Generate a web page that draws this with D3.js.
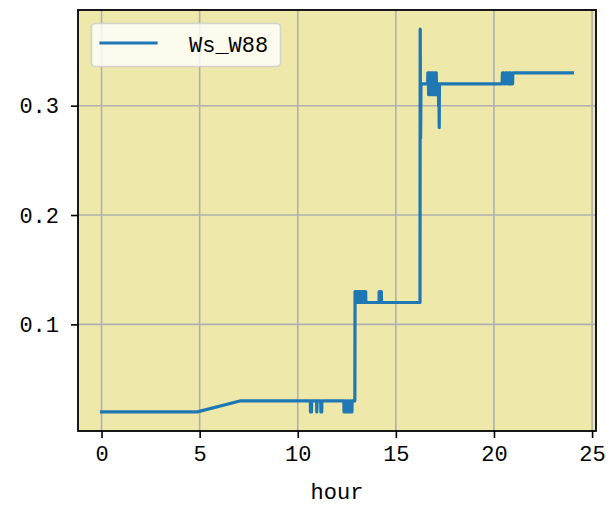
<!DOCTYPE html>
<html>
<head>
<meta charset="utf-8">
<script src="https://cdn.jsdelivr.net/npm/d3@7"></script>
<style>
  html, body { margin: 0; padding: 0; background: #ffffff; }
  svg { display: block; }
  .tick text { font-family: "Liberation Mono", "DejaVu Sans Mono", monospace; }
</style>
</head>
<body>
<div id="chart"></div>
<script>
// ---- data ----
const seriesName = "Ws_W88";
const xLabel = "hour";
const xTicks = [0, 5, 10, 15, 20, 25];
const yTicks = [0.1, 0.2, 0.3];

const hours = [
  0, 4.88, 7.05,
  10.64, 10.65, 10.70, 10.71, 10.96, 10.97, 10.99, 11.17, 11.18, 11.22, 11.23,
  12.35, 12.36, 12.40, 12.41, 12.45, 12.46, 12.52, 12.53, 12.58, 12.59, 12.66, 12.67,
  12.72, 12.73, 12.76, 12.77, 12.91,
  12.92, 12.96, 12.97, 13.00, 13.01, 13.08, 13.09, 13.12, 13.13, 13.22, 13.23, 13.27,
  13.28, 13.35, 13.36, 13.40, 13.41, 13.46, 13.47,
  14.14, 14.15, 14.18, 14.19, 14.22, 14.23, 14.26, 14.27,
  16.23, 16.24, 16.26, 16.28,
  16.62, 16.63, 16.66, 16.67, 16.72, 16.73, 16.80, 16.81, 16.86, 16.87, 16.93, 16.94,
  16.99, 17.00, 17.06, 17.07, 17.12, 17.13, 17.17, 17.18, 17.20, 17.21, 17.22,
  20.42, 20.43, 20.50, 20.51, 20.58, 20.59, 20.68, 20.69, 20.76, 20.77, 20.86, 20.87,
  20.95, 20.96, 24.0
];
const ws = [
  0.02, 0.02, 0.03,
  0.03, 0.02, 0.02, 0.03, 0.03, 0.02, 0.03, 0.03, 0.02, 0.02, 0.03,
  0.03, 0.02, 0.02, 0.03, 0.03, 0.02, 0.02, 0.03, 0.03, 0.02, 0.02, 0.03,
  0.03, 0.02, 0.02, 0.03, 0.03,
  0.13, 0.13, 0.12, 0.12, 0.13, 0.13, 0.12, 0.12, 0.13, 0.13, 0.12, 0.12,
  0.13, 0.13, 0.12, 0.12, 0.13, 0.13, 0.12,
  0.12, 0.13, 0.13, 0.12, 0.12, 0.13, 0.13, 0.12,
  0.12, 0.37, 0.27, 0.32,
  0.32, 0.33, 0.33, 0.31, 0.31, 0.33, 0.33, 0.31, 0.31, 0.33, 0.33, 0.31,
  0.31, 0.33, 0.33, 0.31, 0.31, 0.32, 0.32, 0.30, 0.30, 0.28, 0.32,
  0.32, 0.33, 0.33, 0.32, 0.32, 0.33, 0.33, 0.32, 0.32, 0.33, 0.33, 0.32,
  0.32, 0.33, 0.33
];

// ---- layout ----
const W = 613, H = 520;
const plot = { left: 78, right: 596, top: 10, bottom: 431 };
const bg = "#eee8aa";
const lineColor = "#1f77b4";
const fontMono = "'Liberation Mono', 'DejaVu Sans Mono', monospace";

const svg = d3.select("#chart").append("svg")
  .attr("width", W).attr("height", H);

const x = d3.scaleLinear().domain([-1.2, 25.2]).range([plot.left, plot.right]);
const y = d3.scaleLinear().domain([0.0025, 0.3875]).range([plot.bottom, plot.top]);

// background
svg.append("rect")
  .attr("x", plot.left).attr("y", plot.top)
  .attr("width", plot.right - plot.left).attr("height", plot.bottom - plot.top)
  .attr("fill", bg);

// grid
const grid = svg.append("g");
grid.selectAll("line.gx").data(xTicks.filter(t => x(t) < plot.right)).enter().append("line")
  .attr("x1", d => x(d)).attr("x2", d => x(d))
  .attr("y1", plot.top).attr("y2", plot.bottom)
  .attr("stroke", "#b0b0b0").attr("stroke-width", 1.6);
grid.selectAll("line.gy").data(yTicks).enter().append("line")
  .attr("y1", d => y(d)).attr("y2", d => y(d))
  .attr("x1", plot.left).attr("x2", plot.right)
  .attr("stroke", "#b0b0b0").attr("stroke-width", 1.6);

// line
const pts = hours.map((h, i) => [h, ws[i]]);
const clipId = "clip";
svg.append("clipPath").attr("id", clipId).append("rect")
  .attr("x", plot.left).attr("y", plot.top)
  .attr("width", plot.right - plot.left).attr("height", plot.bottom - plot.top);
svg.append("path")
  .datum(pts)
  .attr("clip-path", `url(#${clipId})`)
  .attr("d", d3.line().x(d => x(d[0])).y(d => y(d[1])))
  .attr("fill", "none")
  .attr("stroke", lineColor)
  .attr("stroke-width", 3.2)
  .attr("stroke-linejoin", "round")
  .attr("stroke-linecap", "square");

// axes
const xAxis = svg.append("g")
  .attr("transform", `translate(0,${plot.bottom})`)
  .call(d3.axisBottom(x).tickValues(xTicks).tickSize(7).tickPadding(7).tickFormat(d3.format("d")));
xAxis.select(".domain").remove();
xAxis.selectAll(".tick line").attr("stroke", "#000").attr("stroke-width", 1.6);
xAxis.selectAll(".tick text").attr("fill", "#000").style("font-size", "22px").style("font-family", fontMono);

const yAxis = svg.append("g")
  .attr("transform", `translate(${plot.left},0)`)
  .call(d3.axisLeft(y).tickValues(yTicks).tickSize(7).tickPadding(12).tickFormat(d3.format(".1f")));
yAxis.select(".domain").remove();
yAxis.selectAll(".tick line").attr("stroke", "#000").attr("stroke-width", 1.6);
yAxis.selectAll(".tick text").attr("fill", "#000").style("font-size", "22px").style("font-family", fontMono);

// frame
svg.append("rect")
  .attr("x", plot.left).attr("y", plot.top)
  .attr("width", plot.right - plot.left).attr("height", plot.bottom - plot.top)
  .attr("fill", "none").attr("stroke", "#000").attr("stroke-width", 1.8);

// x label
svg.append("text")
  .attr("x", (plot.left + plot.right) / 2).attr("y", 499)
  .attr("text-anchor", "middle")
  .style("font-family", fontMono).style("font-size", "22px")
  .text(xLabel);

// legend
const leg = svg.append("g");
leg.append("rect")
  .attr("x", 91.5).attr("y", 23.5).attr("width", 189).attr("height", 43)
  .attr("rx", 4).attr("ry", 4)
  .attr("fill", "#ffffff").attr("fill-opacity", 0.8)
  .attr("stroke", "#cccccc").attr("stroke-opacity", 0.8).attr("stroke-width", 1.6);
leg.append("line")
  .attr("x1", 101).attr("x2", 156).attr("y1", 43).attr("y2", 43)
  .attr("stroke", lineColor).attr("stroke-width", 3.2).attr("stroke-linecap", "square");
leg.append("text")
  .attr("x", 189).attr("y", 52)
  .style("font-family", fontMono).style("font-size", "22px")
  .text(seriesName);
</script>
</body>
</html>
